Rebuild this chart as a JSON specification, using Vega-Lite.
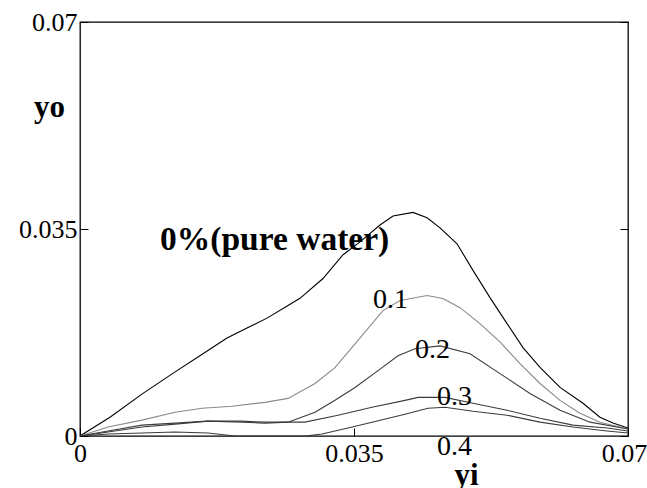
{
  "$schema": "https://vega.github.io/schema/vega-lite/v6.json",
  "width": 548,
  "height": 414,
  "autosize": {"type": "none"},
  "padding": {"left": 80, "top": 22, "right": 19, "bottom": 52},
  "background": "white",
  "config": {
    "view": {"stroke": "black", "strokeWidth": 1.3},
    "font": "Liberation Serif",
    "axis": {"domain": false, "grid": false, "labelFont": "Liberation Serif", "titleFont": "Liberation Serif", "labelColor": "black", "titleColor": "black", "tickColor": "black"}
  },
  "datasets": {
    "curves": [
      {"series": "0%", "x": 0, "y": 0},
      {"series": "0%", "x": 0.00383, "y": 0.00318},
      {"series": "0%", "x": 0.00805, "y": 0.00720},
      {"series": "0%", "x": 0.01239, "y": 0.01105},
      {"series": "0%", "x": 0.01571, "y": 0.01390},
      {"series": "0%", "x": 0.01878, "y": 0.01658},
      {"series": "0%", "x": 0.02133, "y": 0.01825},
      {"series": "0%", "x": 0.02389, "y": 0.01993},
      {"series": "0%", "x": 0.02683, "y": 0.02227},
      {"series": "0%", "x": 0.02810, "y": 0.02328},
      {"series": "0%", "x": 0.03104, "y": 0.02663},
      {"series": "0%", "x": 0.03360, "y": 0.03065},
      {"series": "0%", "x": 0.03577, "y": 0.03282},
      {"series": "0%", "x": 0.03832, "y": 0.03567},
      {"series": "0%", "x": 0.03998, "y": 0.03720},
      {"series": "0%", "x": 0.04254, "y": 0.03780},
      {"series": "0%", "x": 0.04433, "y": 0.03690},
      {"series": "0%", "x": 0.04599, "y": 0.03520},
      {"series": "0%", "x": 0.04816, "y": 0.03250},
      {"series": "0%", "x": 0.05020, "y": 0.02800},
      {"series": "0%", "x": 0.05237, "y": 0.02340},
      {"series": "0%", "x": 0.05455, "y": 0.01900},
      {"series": "0%", "x": 0.05659, "y": 0.01495},
      {"series": "0%", "x": 0.05876, "y": 0.01160},
      {"series": "0%", "x": 0.06132, "y": 0.00821},
      {"series": "0%", "x": 0.06425, "y": 0.00553},
      {"series": "0%", "x": 0.06642, "y": 0.00318},
      {"series": "0%", "x": 0.06808, "y": 0.00218},
      {"series": "0%", "x": 0.07000, "y": 0.00134},
      {"series": "0.1", "x": 0, "y": 0},
      {"series": "0.1", "x": 0.00358, "y": 0.00151},
      {"series": "0.1", "x": 0.00792, "y": 0.00268},
      {"series": "0.1", "x": 0.01214, "y": 0.00402},
      {"series": "0.1", "x": 0.01558, "y": 0.00469},
      {"series": "0.1", "x": 0.01942, "y": 0.00502},
      {"series": "0.1", "x": 0.02363, "y": 0.00569},
      {"series": "0.1", "x": 0.02657, "y": 0.00636},
      {"series": "0.1", "x": 0.03002, "y": 0.00888},
      {"series": "0.1", "x": 0.03257, "y": 0.01156},
      {"series": "0.1", "x": 0.03513, "y": 0.01557},
      {"series": "0.1", "x": 0.03870, "y": 0.02120},
      {"series": "0.1", "x": 0.04088, "y": 0.02290},
      {"series": "0.1", "x": 0.04433, "y": 0.02375},
      {"series": "0.1", "x": 0.04637, "y": 0.02325},
      {"series": "0.1", "x": 0.04854, "y": 0.02170},
      {"series": "0.1", "x": 0.05109, "y": 0.01900},
      {"series": "0.1", "x": 0.05365, "y": 0.01591},
      {"series": "0.1", "x": 0.05620, "y": 0.01222},
      {"series": "0.1", "x": 0.05876, "y": 0.00888},
      {"series": "0.1", "x": 0.06132, "y": 0.00603},
      {"series": "0.1", "x": 0.06387, "y": 0.00385},
      {"series": "0.1", "x": 0.06642, "y": 0.00234},
      {"series": "0.1", "x": 0.07000, "y": 0.00117},
      {"series": "0.2", "x": 0, "y": 0},
      {"series": "0.2", "x": 0.00358, "y": 0.00084},
      {"series": "0.2", "x": 0.00792, "y": 0.00184},
      {"series": "0.2", "x": 0.01214, "y": 0.00218},
      {"series": "0.2", "x": 0.01635, "y": 0.00251},
      {"series": "0.2", "x": 0.02069, "y": 0.00234},
      {"series": "0.2", "x": 0.02363, "y": 0.00218},
      {"series": "0.2", "x": 0.02657, "y": 0.00234},
      {"series": "0.2", "x": 0.03002, "y": 0.00402},
      {"series": "0.2", "x": 0.03257, "y": 0.00603},
      {"series": "0.2", "x": 0.03513, "y": 0.00821},
      {"series": "0.2", "x": 0.03807, "y": 0.01105},
      {"series": "0.2", "x": 0.04062, "y": 0.01356},
      {"series": "0.2", "x": 0.04279, "y": 0.01474},
      {"series": "0.2", "x": 0.04599, "y": 0.01524},
      {"series": "0.2", "x": 0.04982, "y": 0.01390},
      {"series": "0.2", "x": 0.05365, "y": 0.01055},
      {"series": "0.2", "x": 0.05748, "y": 0.00720},
      {"series": "0.2", "x": 0.06132, "y": 0.00435},
      {"series": "0.2", "x": 0.06515, "y": 0.00234},
      {"series": "0.2", "x": 0.07000, "y": 0.00117},
      {"series": "0.3", "x": 0, "y": 0},
      {"series": "0.3", "x": 0.00358, "y": 0.00067},
      {"series": "0.3", "x": 0.00792, "y": 0.00151},
      {"series": "0.3", "x": 0.01214, "y": 0.00201},
      {"series": "0.3", "x": 0.01635, "y": 0.00251},
      {"series": "0.3", "x": 0.02069, "y": 0.00251},
      {"series": "0.3", "x": 0.02363, "y": 0.00234},
      {"series": "0.3", "x": 0.02874, "y": 0.00234},
      {"series": "0.3", "x": 0.03296, "y": 0.00352},
      {"series": "0.3", "x": 0.03730, "y": 0.00486},
      {"series": "0.3", "x": 0.04151, "y": 0.00603},
      {"series": "0.3", "x": 0.04318, "y": 0.00653},
      {"series": "0.3", "x": 0.04662, "y": 0.00653},
      {"series": "0.3", "x": 0.05020, "y": 0.00553},
      {"series": "0.3", "x": 0.05455, "y": 0.00435},
      {"series": "0.3", "x": 0.05876, "y": 0.00301},
      {"series": "0.3", "x": 0.06297, "y": 0.00184},
      {"series": "0.3", "x": 0.06732, "y": 0.00134},
      {"series": "0.3", "x": 0.07000, "y": 0.00084},
      {"series": "0.4", "x": 0, "y": 0},
      {"series": "0.4", "x": 0.00358, "y": 0.00033},
      {"series": "0.4", "x": 0.00792, "y": 0.00050},
      {"series": "0.4", "x": 0.01214, "y": 0.00067},
      {"series": "0.4", "x": 0.01635, "y": 0.00050},
      {"series": "0.4", "x": 0.01980, "y": 0},
      {"series": "0.4", "x": 0.02874, "y": 0},
      {"series": "0.4", "x": 0.03091, "y": 0.00033},
      {"series": "0.4", "x": 0.03423, "y": 0.00134},
      {"series": "0.4", "x": 0.03730, "y": 0.00234},
      {"series": "0.4", "x": 0.04151, "y": 0.00368},
      {"series": "0.4", "x": 0.04445, "y": 0.00469},
      {"series": "0.4", "x": 0.04662, "y": 0.00486},
      {"series": "0.4", "x": 0.05020, "y": 0.00419},
      {"series": "0.4", "x": 0.05455, "y": 0.00352},
      {"series": "0.4", "x": 0.05876, "y": 0.00234},
      {"series": "0.4", "x": 0.06297, "y": 0.00151},
      {"series": "0.4", "x": 0.06732, "y": 0.00084},
      {"series": "0.4", "x": 0.07000, "y": 0.00050}
    ],
    "labels": [
      {"label": "0.1", "x": 0.03743, "y": 0.0230},
      {"label": "0.2", "x": 0.04279, "y": 0.01454},
      {"label": "0.3", "x": 0.0456, "y": 0.00659},
      {"label": "0.4", "x": 0.0456, "y": -0.00186}
    ],
    "boldlabels": [
      {"label": "0%(pure water)", "x": 0.01022, "y": 0.03314}
    ]
  },
  "layer": [
    {
      "data": {"name": "curves"},
      "mark": {"type": "line", "strokeWidth": 1.1, "clip": true},
      "encoding": {
        "x": {"field": "x", "type": "quantitative", "scale": {"domain": [0, 0.07], "nice": false, "zero": false},
              "axis": {"orient": "bottom", "values": [0, 0.035, 0.07], "labelExpr": "format(datum.value, '.3~g')", "labelFontSize": 26, "labelPadding": 12, "ticks": true, "tickSize": -8, "labelFlush": false, "labelOverlap": false,
                       "labelOffset": {"condition": {"test": "datum.value > 0.06", "value": -4}, "value": 0},
                       "title": "yi", "titleFontSize": 31, "titleFontWeight": "bold", "titleX": 386, "titleY": 48, "titleBaseline": "alphabetic", "titleAlign": "center"}},
        "y": {"field": "y", "type": "quantitative", "scale": {"domain": [0, 0.07], "nice": false, "zero": false},
              "axis": {"orient": "left", "values": [0, 0.035, 0.07], "labelExpr": "format(datum.value, '.3~g')", "labelFontSize": 26, "labelPadding": 11, "ticks": true, "tickSize": -8, "labelFlush": false, "labelOverlap": false, "labelBaseline": "middle",
                       "title": "yo", "titleFontSize": 31, "titleFontWeight": "bold", "titleAngle": 0, "titleX": -31, "titleY": 85, "titleAlign": "center", "titleBaseline": "middle"}},
        "color": {"field": "series", "type": "nominal", "legend": null,
                  "scale": {"domain": ["0%", "0.1", "0.2", "0.3", "0.4"], "range": ["#000000", "#8a8a8a", "#3c3c3c", "#3c3c3c", "#3c3c3c"]}},
        "detail": {"field": "series"}
      }
    },
    {
      "data": {"name": "labels"},
      "mark": {"type": "text", "align": "left", "baseline": "middle", "fontSize": 28, "font": "Liberation Serif", "color": "black"},
      "encoding": {
        "x": {"field": "x", "type": "quantitative"},
        "y": {"field": "y", "type": "quantitative",
              "axis": {"orient": "right", "values": [0, 0.035, 0.07], "labels": false, "ticks": true, "tickSize": -8, "title": null}},
        "text": {"field": "label"}
      }
    },
    {
      "data": {"name": "boldlabels"},
      "mark": {"type": "text", "align": "left", "baseline": "middle", "fontSize": 33.5, "fontWeight": "bold", "font": "Liberation Serif", "color": "black"},
      "encoding": {
        "x": {"field": "x", "type": "quantitative"},
        "y": {"field": "y", "type": "quantitative", "axis": null},
        "text": {"field": "label"}
      }
    }
  ],
  "resolve": {"axis": {"y": "independent"}}
}
